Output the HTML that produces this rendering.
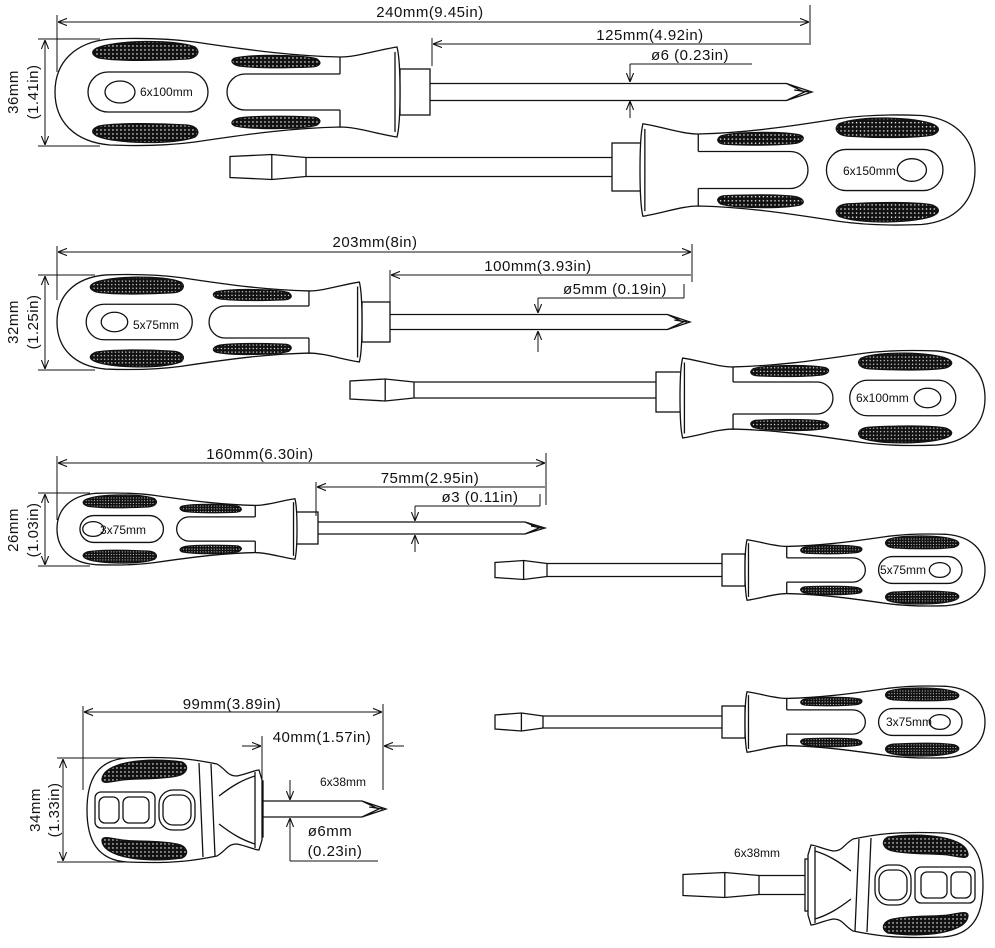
<!DOCTYPE html>
<html><head><meta charset="utf-8"><style>
html,body{margin:0;padding:0;background:#fff;}
svg{display:block;}
text{font-family:"Liberation Sans",sans-serif;fill:#111;}
.d{font-size:15px;letter-spacing:0.5px;}
.l{font-size:12px;}
</style></head><body>
<svg id="s" width="995" height="948" viewBox="0 0 995 948" xmlns="http://www.w3.org/2000/svg">
<defs>
<pattern id="knurl" width="4" height="4" patternUnits="userSpaceOnUse">
<rect width="4" height="4" fill="#111"/><rect x="1.3" y="1.3" width="1.3" height="1.3" fill="#fff"/>
</pattern>
<marker id="ar" viewBox="0 0 10 10" refX="10" refY="5" markerWidth="9" markerHeight="9" orient="auto-start-reverse" markerUnits="userSpaceOnUse"><path d="M0,1 L10,5 L0,9" fill="none" stroke="#111" stroke-width="1.2"/></marker>
</defs>
<g id="shapes" fill="none" stroke="#111" stroke-width="1.3"></g>
<g id="dims" fill="none" stroke="#111" stroke-width="1">
<line x1="57" y1="15" x2="57" y2="72"/><line x1="810" y1="5" x2="810" y2="45"/>
<line x1="58" y1="22" x2="809" y2="22" marker-start="url(#ar)" marker-end="url(#ar)"/>
<line x1="432" y1="38" x2="432" y2="66"/>
<line x1="433" y1="44" x2="809" y2="44" marker-start="url(#ar)"/>
<line x1="630" y1="64" x2="752" y2="64"/>
<line x1="630" y1="64" x2="630" y2="82" marker-end="url(#ar)"/>
<line x1="630" y1="118" x2="630" y2="101" marker-end="url(#ar)"/>
<line x1="38" y1="39" x2="100" y2="39"/><line x1="38" y1="146" x2="100" y2="146"/>
<line x1="45" y1="40" x2="45" y2="145" marker-start="url(#ar)" marker-end="url(#ar)"/>
<line x1="57" y1="246" x2="57" y2="300"/><line x1="692" y1="244" x2="692" y2="282"/>
<line x1="58" y1="252" x2="691" y2="252" marker-start="url(#ar)" marker-end="url(#ar)"/>
<line x1="390" y1="270" x2="390" y2="306"/>
<line x1="391" y1="275" x2="691" y2="275" marker-start="url(#ar)"/>
<line x1="538" y1="298" x2="684" y2="298"/><line x1="684" y1="284" x2="684" y2="298"/>
<line x1="538" y1="298" x2="538" y2="313" marker-end="url(#ar)"/>
<line x1="538" y1="352" x2="538" y2="331" marker-end="url(#ar)"/>
<line x1="38" y1="275" x2="95" y2="275"/><line x1="38" y1="370" x2="95" y2="370"/>
<line x1="45" y1="276" x2="45" y2="369" marker-start="url(#ar)" marker-end="url(#ar)"/>
<line x1="57" y1="456" x2="57" y2="520"/><line x1="546" y1="453" x2="546" y2="505"/>
<line x1="58" y1="463" x2="545" y2="463" marker-start="url(#ar)" marker-end="url(#ar)"/>
<line x1="316" y1="482" x2="316" y2="516"/>
<line x1="317" y1="487" x2="545" y2="487" marker-start="url(#ar)"/>
<line x1="415" y1="506" x2="540" y2="506"/><line x1="540" y1="494" x2="540" y2="506"/>
<line x1="415" y1="506" x2="415" y2="521" marker-end="url(#ar)"/>
<line x1="415" y1="552" x2="415" y2="535" marker-end="url(#ar)"/>
<line x1="38" y1="493" x2="90" y2="493"/><line x1="38" y1="566" x2="90" y2="566"/>
<line x1="45" y1="494" x2="45" y2="565" marker-start="url(#ar)" marker-end="url(#ar)"/>
<line x1="83" y1="706" x2="83" y2="790"/><line x1="383" y1="704" x2="383" y2="790"/>
<line x1="84" y1="712" x2="382" y2="712" marker-start="url(#ar)" marker-end="url(#ar)"/>
<line x1="262" y1="736" x2="262" y2="782"/>
<line x1="242" y1="746" x2="261" y2="746" marker-end="url(#ar)"/>
<line x1="404" y1="746" x2="384" y2="746" marker-end="url(#ar)"/>
<line x1="290" y1="780" x2="290" y2="800" marker-end="url(#ar)"/>
<line x1="290" y1="861" x2="290" y2="818" marker-end="url(#ar)"/>
<line x1="290" y1="861" x2="378" y2="861"/>
<line x1="57" y1="758" x2="130" y2="758"/><line x1="57" y1="862" x2="130" y2="862"/>
<line x1="63" y1="759" x2="63" y2="861" marker-start="url(#ar)" marker-end="url(#ar)"/>
</g>
<g id="txt">
<text class="d" x="430" y="17" text-anchor="middle">240mm(9.45in)</text>
<text class="d" x="650" y="40" text-anchor="middle">125mm(4.92in)</text>
<text class="d" x="690" y="60" text-anchor="middle">ø6  (0.23in)</text>
<text class="d" transform="translate(18,92) rotate(-90)" text-anchor="middle">36mm</text>
<text class="d" transform="translate(38,92) rotate(-90)" text-anchor="middle">(1.41in)</text>
<text class="d" x="375" y="247" text-anchor="middle">203mm(8in)</text>
<text class="d" x="538" y="271" text-anchor="middle">100mm(3.93in)</text>
<text class="d" x="615" y="294" text-anchor="middle">ø5mm  (0.19in)</text>
<text class="d" transform="translate(18,322) rotate(-90)" text-anchor="middle">32mm</text>
<text class="d" transform="translate(38,322) rotate(-90)" text-anchor="middle">(1.25in)</text>
<text class="d" x="260" y="459" text-anchor="middle">160mm(6.30in)</text>
<text class="d" x="430" y="483" text-anchor="middle">75mm(2.95in)</text>
<text class="d" x="480" y="502" text-anchor="middle">ø3  (0.11in)</text>
<text class="d" transform="translate(18,530) rotate(-90)" text-anchor="middle">26mm</text>
<text class="d" transform="translate(38,530) rotate(-90)" text-anchor="middle">(1.03in)</text>
<text class="d" x="232" y="709" text-anchor="middle">99mm(3.89in)</text>
<text class="d" x="322" y="742" text-anchor="middle">40mm(1.57in)</text>
<text class="l" x="343" y="786" text-anchor="middle">6x38mm</text>
<text class="d" x="330" y="836" text-anchor="middle">ø6mm</text>
<text class="d" x="335" y="856" text-anchor="middle">(0.23in)</text>
<text class="d" transform="translate(40,810) rotate(-90)" text-anchor="middle">34mm</text>
<text class="d" transform="translate(59,810) rotate(-90)" text-anchor="middle">(1.33in)</text>
<text class="l" x="757" y="857" text-anchor="middle">6x38mm</text>
<text class="l" x="140" y="96">6x100mm</text>
<text class="l" x="843" y="175">6x150mm</text>
<text class="l" x="133" y="329">5x75mm</text>
<text class="l" x="856" y="402">6x100mm</text>
<text class="l" x="100" y="534">3x75mm</text>
<text class="l" x="880" y="574">5x75mm</text>
<text class="l" x="886" y="726">3x75mm</text>
</g>
</svg>
<script>
(function(){
var g=document.getElementById('shapes');var out='';
var NS=' vector-effect="non-scaling-stroke"';
function handle(x0,cy,len,h,dir,holeX){
 var sx=len/345*dir, sy=h/107;
 var s='<g transform="translate('+x0+','+cy+') scale('+sx+','+sy+')">';
 s+='<path'+NS+' fill="#fff" d="M342,-45 C322,-42 302,-35 285,-35 C240,-36 200,-41 140,-50 C110,-54 80,-54 55,-53 C20,-50 0,-30 0,0 C0,30 20,50 55,53 C80,54 110,54 140,50 C200,41 240,36 285,35 C302,35 322,42 342,45 C346,30 346,-30 342,-45 Z"/>';
 s+='<path'+NS+' fill="url(#knurl)" d="M42,-44 C60,-52 120,-53 140,-45 C146,-40 142,-34 132,-33 C100,-31 60,-31 44,-34 C36,-37 36,-41 42,-44 Z"/>';
 s+='<path'+NS+' fill="url(#knurl)" d="M42,44 C60,52 120,53 140,45 C146,40 142,34 132,33 C100,31 60,31 44,34 C36,37 36,41 42,44 Z"/>';
 s+='<path'+NS+' fill="url(#knurl)" d="M180,-34 C200,-38 250,-37 262,-33 C268,-29 264,-25 256,-25 C230,-24 200,-24 184,-26 C176,-28 175,-32 180,-34 Z"/>';
 s+='<path'+NS+' fill="url(#knurl)" d="M180,34 C200,38 250,37 262,33 C268,29 264,25 256,25 C230,24 200,24 184,26 C176,28 175,32 180,34 Z"/>';
 s+='<rect'+NS+' x="33" y="-20" width="120" height="40" rx="20"/>';
 s+='<ellipse'+NS+' cx="'+(holeX||65)+'" cy="0" rx="15" ry="11"/>';
 s+='<path'+NS+' d="M285,-18 L190,-18 A18,18 0 0 0 190,18 L285,18 M285,-18 L285,-35 M285,18 L285,35 M340,-40 L340,40"/>';
 s+='</g>';
 return s;
}
function phil(x1,x2,cy,t){
 var tl=Math.max(20,t*1.5);
 return '<path d="M'+x1+','+(cy-t/2)+' L'+(x2-tl)+','+(cy-t/2)+' L'+x2+','+cy+' L'+(x2-tl)+','+(cy+t/2)+' L'+x1+','+(cy+t/2)+' M'+(x2-tl)+','+(cy-t/2)+' L'+(x2-tl*0.3)+','+cy+' L'+(x2-tl)+','+(cy+t/2)+' M'+(x2-tl*0.7)+','+(cy-2)+' L'+(x2-3)+','+cy+'"/>';
}
function slot(x1,x2,cy,t){
 var b=t*4, m=x1+b*0.55;
 return '<path d="M'+x2+','+(cy-t/2)+' L'+(x1+b)+','+(cy-t/2)+' L'+m+','+(cy-t/2-3)+' L'+x1+','+(cy-t/2-1)+' L'+x1+','+(cy+t/2+1)+' L'+m+','+(cy+t/2+3)+' L'+(x1+b)+','+(cy+t/2)+' L'+x2+','+(cy+t/2)+' M'+m+','+(cy-t/2-3)+' L'+m+','+(cy+t/2+3)+' M'+(x1+b)+','+(cy-t/2)+' L'+(x1+b)+','+(cy+t/2)+'"/>';
}
function collar(x,w,cy,hh){return '<rect x="'+x+'" y="'+(cy-hh)+'" width="'+w+'" height="'+(2*hh)+'" fill="#fff"/>';}
out+=phil(430,812,92,17)+collar(400,30,92,23)+handle(55,92,345,107,1);
out+=slot(230,612,167,19)+collar(612,30,167,24)+handle(975,170,335,110,-1);
out+=phil(390,690,322,15)+collar(362,28,322,20)+handle(57,322,305,95,1);
out+=slot(350,656,390,16)+collar(656,26,392,20)+handle(985,398,305,95,-1);
out+=phil(318,545,528,12)+collar(295,23,528,16)+handle(57,529,240,72,1,52);
out+=slot(495,722,570,13)+collar(722,23,570,16)+handle(985,570,240,72,-1);
out+=slot(495,722,722,12)+collar(722,23,722,16)+handle(985,722,240,72,-1);
function stub(x0,cy,dir){
 var s='<g transform="translate('+x0+','+cy+') scale('+dir+',1)">';
 s+='<path'+NS+' fill="#fff" d="M40,-52 C90,-54 110,-50 130,-46 C140,-40 140,-34 150,-34 C160,-36 168,-40 172,-40 L175,-30 L175,30 L172,40 C168,40 160,36 150,34 C140,34 140,40 130,46 C110,50 90,54 40,52 C10,50 0,30 0,0 C0,-30 10,-50 40,-52 Z"/>';
 s+='<path'+NS+' fill="url(#knurl)" d="M15,-30 C15,-48 60,-53 95,-48 C103,-44 100,-36 90,-34 C70,-30 50,-32 35,-30 C22,-28 16,-26 15,-30 Z"/>';
 s+='<path'+NS+' fill="url(#knurl)" d="M15,30 C15,48 60,53 95,48 C103,44 100,36 90,34 C70,30 50,32 35,30 C22,28 16,26 15,30 Z"/>';
 s+='<rect'+NS+' x="8" y="-18" width="60" height="36" rx="6"/><rect'+NS+' x="12" y="-13" width="20" height="26" rx="6"/><rect'+NS+' x="36" y="-13" width="26" height="26" rx="6"/>';
 s+='<rect'+NS+' x="72" y="-20" width="36" height="40" rx="14"/><rect'+NS+' x="76" y="-15" width="28" height="30" rx="10"/>';
 s+='<path'+NS+' d="M112,-47 L116,47 M124,-46 L128,46 M132,-14 C145,-24 155,-30 168,-34 M132,14 C145,24 155,30 168,34 M168,-38 L168,38"/>';
 s+='</g>';
 return s;
}
out+=phil(262,386,809,16)+collar(255,8,809,28)+stub(87,810,1);
out+=slot(683,808,885,19)+collar(805,8,885,26)+stub(983,885,-1);
g.innerHTML=out;
})();
</script>
</body></html>
